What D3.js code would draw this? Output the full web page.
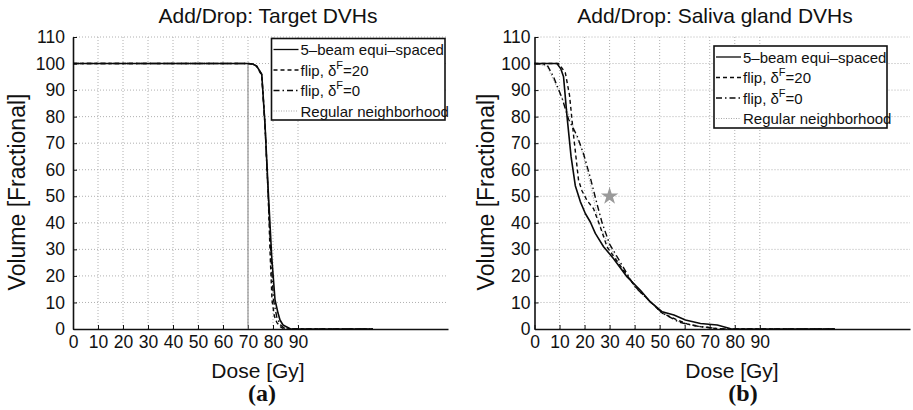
<!DOCTYPE html>
<html>
<head>
<meta charset="utf-8">
<script src="https://cdn.jsdelivr.net/npm/d3@7"></script>
<style>
  body { margin: 0; background: #fff; }
  svg { display: block; font-family: "Liberation Sans", Arial, sans-serif; }
</style>
</head>
<body>
<div id="chart"></div>
<script>
// axis ticks
const xTicks = [0, 10, 20, 30, 40, 50, 60, 70, 80, 90];
const yTicks = [0, 10, 20, 30, 40, 50, 60, 70, 80, 90, 100, 110];

// (a) target DVHs
const tgtBeamDose = [0, 70, 72, 73.5, 75.5, 76.8, 78.1, 79.5, 80.8, 82, 82.8, 84, 86.1, 87, 120];
const tgtBeamVol  = [100, 100, 99.8, 99, 96, 77, 52, 27, 11, 6, 3.4, 1.5, 0.5, 0, 0];
const tgtFlip20Dose = [0, 70, 72, 73.5, 75.5, 76.8, 78, 78.9, 79.6, 80.5, 81.5, 83, 84.5, 120];
const tgtFlip20Vol  = [100, 100, 99.8, 99, 95.5, 77, 52, 27, 11, 5, 2.5, 0.8, 0, 0];
const tgtFlip0Dose = [0, 70, 72, 73.5, 75.5, 76.8, 78, 79.2, 80.2, 81.5, 83, 85, 120];
const tgtFlip0Vol  = [100, 100, 99.8, 99, 95.8, 77, 52, 27, 11, 4.5, 1.5, 0, 0];
const tgtRefDose = [0, 70, 70];
const tgtRefVol  = [100, 100, 0];

// (b) saliva gland DVHs
const salBeamDose = [0, 9, 10.5, 11.6, 13, 14.6, 16.3, 18.3, 20.3, 22.3, 24.3, 27.6, 31.6, 37, 42.3, 46.3, 51, 55.7, 60.3, 66.3, 73, 77.7, 78.5, 120];
const salBeamVol  = [100, 100, 98, 95, 80, 65, 54, 48, 43.5, 40.3, 36, 31, 26.5, 19.6, 14.6, 10.2, 6.5, 5.3, 3.4, 2.1, 1.5, 0.3, 0, 0];
const salFlip20Dose = [0, 9.6, 12.3, 14, 15.6, 17.6, 19, 21, 23.6, 26.3, 29, 33.6, 40.3, 46.3, 51, 57, 61, 66.3, 71.6, 73, 120];
const salFlip20Vol  = [100, 100, 96.6, 88, 73, 56, 52, 48.4, 45.3, 38.4, 30.9, 24.7, 15.9, 10.2, 6, 3.4, 1.9, 0.9, 0.3, 0, 0];
const salFlip0Dose = [0, 5, 7.6, 11, 13.6, 17, 19.6, 22.3, 25, 27, 30, 35, 40, 46, 51, 58, 64, 70, 75, 120];
const salFlip0Vol  = [100, 99.5, 95, 87, 79, 72.8, 66, 57, 47, 40, 32, 24, 16, 10.5, 6, 2.5, 1.2, 0.5, 0, 0];
const salRegDose = [0, 5, 8, 11, 14, 17, 19, 22, 25.7, 28, 30, 35, 40, 46, 51, 58, 65, 72, 78];
const salRegVol  = [100, 99, 93, 87, 80, 72, 67, 56, 40, 35, 31, 23, 16, 10.5, 6.5, 2.5, 1, 0.3, 0];
const salStar = [30, 50];

const legendNames = ["5\u2013beam equi\u2013spaced", "flip, \u03b4|F|=20", "flip, \u03b4|F|=0", "Regular neighborhood"];

const styles = [
  {stroke: "#0a0a0a", width: 1.6, dash: null},
  {stroke: "#0a0a0a", width: 1.4, dash: "4,3"},
  {stroke: "#0a0a0a", width: 1.4, dash: "6,3,1.5,3"},
  {stroke: "#a8a8a8", width: 1.1, dash: "1,1.5"}
];

const W = 913, H = 410;
const svg = d3.select("#chart").append("svg")
    .attr("width", W)
    .attr("height", H);

function zip(xs, ys) { return xs.map((d, i) => [d, ys[i]]); }

function drawPanel(p) {
  const x = d3.scaleLinear().domain([0, 150]).range([p.left, p.right]);
  const y = d3.scaleLinear().domain([0, 110]).range([329, 37]);
  const g = svg.append("g");

  // grid
  g.selectAll(".vg").data(xTicks.slice(1)).join("line")
      .attr("x1", d => x(d)).attr("x2", d => x(d))
      .attr("y1", y(0)).attr("y2", y(110))
      .attr("stroke", "#b0b0b0").attr("stroke-width", 1).attr("stroke-dasharray", "1,2");
  g.selectAll(".hg").data(yTicks.slice(1)).join("line")
      .attr("x1", x(0)).attr("x2", x(150))
      .attr("y1", d => y(d)).attr("y2", d => y(d))
      .attr("stroke", "#b0b0b0").attr("stroke-width", 1).attr("stroke-dasharray", "1,2");

  // axes
  const xa = g.append("g").attr("transform", "translate(0," + y(0) + ")")
      .call(d3.axisBottom(x).tickValues(xTicks).tickSizeInner(-4).tickSizeOuter(0).tickPadding(7));
  const ya = g.append("g").attr("transform", "translate(" + x(0) + ",0)")
      .call(d3.axisLeft(y).tickValues(yTicks).tickSizeInner(-4).tickSizeOuter(0).tickPadding(p.ypad));
  [xa, ya].forEach(a => {
    a.select(".domain").attr("stroke", "#111").attr("stroke-width", 1.6);
    a.selectAll(".tick line").attr("stroke", "#111");
    a.selectAll("text").attr("font-family", "Liberation Sans, Arial, sans-serif")
        .attr("font-size", 17.5).attr("fill", "#111");
  });

  const line = d3.line().x(d => x(d[0])).y(d => y(d[1]));

  // reference / regular neighborhood
  if (p.ref) {
    g.append("path").datum(p.ref).attr("d", line)
        .attr("fill", "none").attr("stroke", p.refColor).attr("stroke-width", 1.1)
        .attr("stroke-dasharray", p.refDash);
  }
  if (p.star) {
    g.append("path").attr("d", d3.symbol(d3.symbolStar, 95)())
        .attr("transform", "translate(" + x(p.star[0]) + "," + y(p.star[1]) + ")")
        .attr("fill", "#9a9a9a");
  }

  // curves (drawn back to front)
  p.series.slice().reverse().forEach((s, i) => {
    const st = styles[p.series.length - 1 - i];
    g.append("path").datum(s).attr("d", line)
        .attr("fill", "none").attr("stroke", st.stroke).attr("stroke-width", st.width)
        .attr("stroke-dasharray", st.dash).attr("stroke-linejoin", "round");
  });

  // titles
  g.append("text").attr("x", p.titleX).attr("y", 23).attr("text-anchor", "middle")
      .attr("font-size", 21).attr("fill", "#111").text(p.title);
  g.append("text").attr("x", p.xlabX).attr("y", 378).attr("text-anchor", "middle")
      .attr("font-size", 21).attr("fill", "#111").text("Dose [Gy]");
  g.append("text").attr("transform", "translate(" + (p.ylabX) + ",192) rotate(-90)")
      .attr("text-anchor", "middle").attr("font-size", 23).attr("fill", "#111")
      .text("Volume [Fractional]");
  g.append("text").attr("x", p.capX).attr("y", 401).attr("text-anchor", "middle")
      .attr("font-family", "Liberation Serif, Times New Roman, serif").attr("font-weight", "bold")
      .attr("font-size", 24).attr("fill", "#111").text(p.caption);

  // legend
  const L = p.legend;
  g.append("rect").attr("x", L.x).attr("y", L.y).attr("width", L.w).attr("height", L.h)
      .attr("fill", "#fff").attr("stroke", "#111").attr("stroke-width", 1.6);
  legendNames.forEach((name, i) => {
    const cy = L.y + 11 + i * 20.5;
    const st = styles[i];
    g.append("line").attr("x1", L.x + 2).attr("x2", L.x + 27).attr("y1", cy).attr("y2", cy)
        .attr("stroke", st.stroke).attr("stroke-width", Math.min(st.width, 1.3))
        .attr("stroke-dasharray", st.dash);
    const t = g.append("text").attr("x", L.x + 29).attr("y", cy + 5.5)
        .attr("font-size", 15).attr("fill", "#111");
    const parts = name.split("|");
    t.append("tspan").text(parts[0]);
    if (parts.length > 1) {
      t.append("tspan").attr("dy", -7).attr("font-size", 11).text(parts[1]);
      t.append("tspan").attr("dy", 7).text(parts[2]);
    }
  });
}

drawPanel({
  left: 73, right: 448, ypad: 8,
  title: "Add/Drop: Target DVHs", titleX: 268, xlabX: 258, ylabX: 25, capX: 262, caption: "(a)",
  series: [zip(tgtBeamDose, tgtBeamVol), zip(tgtFlip20Dose, tgtFlip20Vol), zip(tgtFlip0Dose, tgtFlip0Vol)],
  ref: zip(tgtRefDose, tgtRefVol), refColor: "#8c8c8c", refDash: null,
  legend: {x: 271.5, y: 38.5, w: 173.5, h: 81.5}
});

drawPanel({
  left: 534.5, right: 910, ypad: 4,
  title: "Add/Drop: Saliva gland DVHs", titleX: 715, xlabX: 732, ylabX: 494, capX: 743, caption: "(b)",
  series: [zip(salBeamDose, salBeamVol), zip(salFlip20Dose, salFlip20Vol), zip(salFlip0Dose, salFlip0Vol)],
  ref: zip(salRegDose, salRegVol), refColor: "#a8a8a8", refDash: "1,1.5",
  star: salStar,
  legend: {x: 714, y: 46, w: 173, h: 82}
});
</script>
</body>
</html>
